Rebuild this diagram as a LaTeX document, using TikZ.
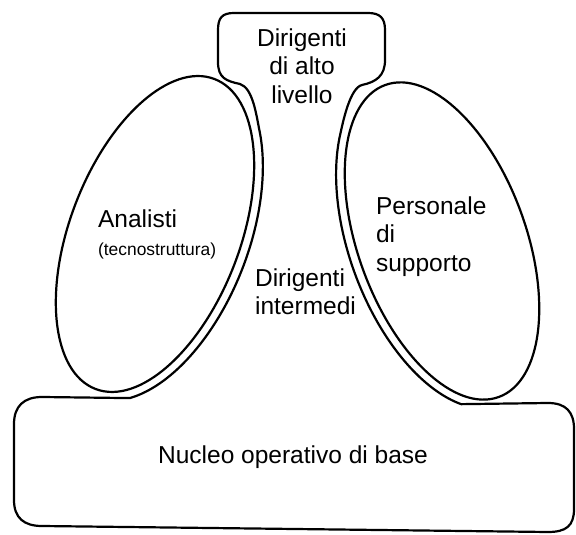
\documentclass[tikz,border=0pt]{standalone}
\usepackage{fontspec}
\setmainfont{Liberation Sans}
\begin{document}
\begin{tikzpicture}[x=0.5pt,y=0.5pt,line width=1.1pt,line join=round,line cap=round,
  lbl/.style={inner sep=0pt,font=\fontsize{12.25}{14.25}\selectfont},
  small/.style={font=\fontsize{8.7}{10}\selectfont}]
\useasboundingbox (0,0) rectangle (576,534);
% outline of top apex, middle line and operating core
\draw plot[domain=-68:50,samples=80,variable=\t]
   ({155+94*cos(\t)*cos(21)+175*sin(\t)*sin(21)},{300-94*cos(\t)*sin(21)+175*sin(\t)*cos(21)})
  .. controls (256.4,418.2) and (253,446) .. (240,450)
  .. controls (226,453) and (218,456) .. (218,472)
  -- (218,504) .. controls (218,516) and (222,521) .. (234,521)
  -- (368,521) .. controls (380,521) and (385,516) .. (385,504)
  -- (385,474) .. controls (385,458) and (376,452) .. (362,449)
  .. controls (350,446) and (343.2,413.3) .. (340,398.6)
  -- plot[domain=130:246,samples=80,variable=\t]
   ({442+93*cos(\t)*cos(20)-175*sin(\t)*sin(20)},{293+93*cos(\t)*sin(20)+175*sin(\t)*cos(20)})
  -- (548,131) .. controls (566,131) and (574,122) .. (574,105)
  -- (574,25) .. controls (574,8) and (566,2) .. (548,2)
  -- (42,8) .. controls (24,8) and (14,16) .. (14,34)
  -- (14,110) .. controls (14,128) and (24,137) .. (42,137)
  -- cycle;
% technostructure and support staff
\draw[rotate around={-21:(155,300)}] (155,300) ellipse [x radius=85,y radius=166];
\draw[rotate around={20:(442,293)}] (442,293) ellipse [x radius=84,y radius=166];
% labels
\node[lbl,align=center,anchor=north] (apex) at (302,506.5) {Dirigenti\\di alto\\livello};
\node[lbl,align=left,anchor=north west] (ana) at (97,325.5) {Analisti\\{\fontsize{8.7}{10}\selectfont(tecnostruttura)}};
\node[lbl,align=left,anchor=north west] (sup) at (375,338.5) {Personale\\di\\supporto};
\node[lbl,align=left,anchor=north west] (mid) at (254,266.5) {Dirigenti\\intermedi};
\node[lbl,anchor=base] (core) at (293,71) {Nucleo operativo di base};
\end{tikzpicture}
\end{document}
